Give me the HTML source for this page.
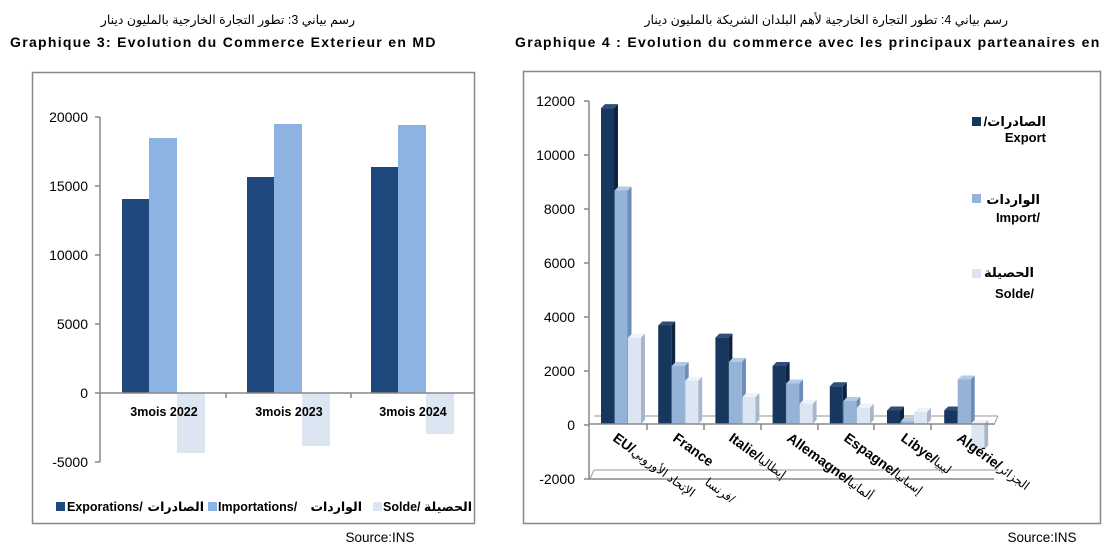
<!DOCTYPE html>
<html><head><meta charset="utf-8"><style>
body{margin:0;background:#fff;width:1109px;height:551px;overflow:hidden}
svg{display:block}
text{font-family:"Liberation Sans","DejaVu Sans",sans-serif}
</style></head><body>
<svg width="1109" height="551" viewBox="0 0 1109 551">
<text x="355" y="24" font-size="12.5" text-anchor="end">رسم بياني 3: تطور التجارة الخارجية بالمليون دينار</text>
<text x="10" y="47" font-size="14" font-weight="bold" letter-spacing="1.3">Graphique 3: Evolution du Commerce Exterieur en MD</text>
<text x="1008" y="24" font-size="12.5" text-anchor="end">رسم بياني 4: تطور التجارة الخارجية لأهم البلدان الشريكة بالمليون دينار</text>
<text x="515" y="47" font-size="14" font-weight="bold" letter-spacing="1.3">Graphique 4 : Evolution du commerce avec les principaux parteanaires en</text>

<rect x="32.5" y="72.5" width="442" height="451" fill="#fff" stroke="#888" stroke-width="1.5"/>
<g font-size="14" text-anchor="end" fill="#000">
<text x="88" y="122">20000</text><text x="88" y="191">15000</text><text x="88" y="260">10000</text><text x="88" y="329">5000</text><text x="88" y="398">0</text><text x="88" y="467">-5000</text>
</g>
<g stroke="#888" stroke-width="1.5">
<line x1="100" y1="117" x2="100" y2="462"/>
<line x1="95" y1="117" x2="100" y2="117"/><line x1="95" y1="186" x2="100" y2="186"/><line x1="95" y1="255" x2="100" y2="255"/><line x1="95" y1="324" x2="100" y2="324"/><line x1="95" y1="393" x2="100" y2="393"/><line x1="95" y1="462" x2="100" y2="462"/>
</g>
<g>
<rect x="122" y="199" width="27" height="194" fill="#1f497d"/>
<rect x="149" y="138" width="28" height="255" fill="#8db3e2"/>
<rect x="177" y="393" width="28" height="60" fill="#dce6f2"/>
<rect x="247" y="177" width="27" height="216" fill="#1f497d"/>
<rect x="274" y="124" width="28" height="269" fill="#8db3e2"/>
<rect x="302" y="393" width="28" height="53" fill="#dce6f2"/>
<rect x="371" y="167" width="27" height="226" fill="#1f497d"/>
<rect x="398" y="125" width="28" height="268" fill="#8db3e2"/>
<rect x="426" y="393" width="28" height="41" fill="#dce6f2"/>
</g>
<g stroke="#888" stroke-width="1.5">
<line x1="100" y1="393" x2="474" y2="393"/>
<line x1="226" y1="393" x2="226" y2="398"/><line x1="351" y1="393" x2="351" y2="398"/>
</g>
<g font-size="12.5" font-weight="bold" text-anchor="middle">
<text x="164" y="416">3mois 2022</text><text x="289" y="416">3mois 2023</text><text x="413" y="416">3mois 2024</text>
</g>
<g font-size="12.5" font-weight="bold">
<rect x="56" y="502" width="9" height="9" fill="#1f497d"/>
<text x="67" y="511">Exporations/</text>
<text x="204" y="511" text-anchor="end">الصادرات</text>
<rect x="208" y="502" width="9" height="9" fill="#8db3e2"/>
<text x="218" y="511">Importations/</text>
<text x="362" y="511" text-anchor="end">الواردات</text>
<rect x="373" y="502" width="9" height="9" fill="#dce6f2"/>
<text x="383" y="511">Solde/</text>
<text x="472" y="511" text-anchor="end">الحصيلة</text>
</g>
<text x="380" y="542" font-size="13.5" text-anchor="middle">Source:INS</text>

<rect x="523.5" y="71.5" width="577" height="452" fill="#fff" stroke="#888" stroke-width="1.5"/>
<g font-size="14" text-anchor="end">
<text x="575" y="106">12000</text><text x="575" y="160">10000</text><text x="575" y="214">8000</text><text x="575" y="268">6000</text><text x="575" y="322">4000</text><text x="575" y="376">2000</text><text x="575" y="430">0</text><text x="575" y="484">-2000</text>
</g>
<g stroke="#aaa" stroke-width="1.2" fill="none">
<line x1="594" y1="416" x2="998" y2="416"/>
<line x1="594" y1="470" x2="998" y2="470"/>
<line x1="590" y1="479" x2="594" y2="470"/>
<line x1="994" y1="425" x2="998" y2="416"/>
</g>
<g stroke="#888" stroke-width="1.5">
<line x1="589" y1="101" x2="589" y2="479"/>
<line x1="584" y1="101" x2="589" y2="101"/><line x1="584" y1="155" x2="589" y2="155"/><line x1="584" y1="209" x2="589" y2="209"/><line x1="584" y1="263" x2="589" y2="263"/><line x1="584" y1="317" x2="589" y2="317"/><line x1="584" y1="371" x2="589" y2="371"/><line x1="584" y1="425" x2="589" y2="425"/><line x1="584" y1="479" x2="589" y2="479"/>
<line x1="589" y1="479" x2="994" y2="479"/>
</g>
<g id="bars"></g>
<g stroke="#888" stroke-width="1.5">
<line x1="589" y1="424" x2="994" y2="424"/>
<line x1="647" y1="424" x2="647" y2="430"/><line x1="704" y1="424" x2="704" y2="430"/><line x1="761" y1="424" x2="761" y2="430"/><line x1="818" y1="424" x2="818" y2="430"/><line x1="874" y1="424" x2="874" y2="430"/><line x1="931" y1="424" x2="931" y2="430"/>
</g>
<g font-size="14" font-weight="bold">
<text transform="translate(612,440) rotate(36)">EU/<tspan font-weight="normal" font-size="12">الإتحاد الأوروبي</tspan></text>
<text transform="translate(672,440) rotate(36)">France</text>
<text transform="translate(704,484) rotate(36)" font-weight="normal" font-size="12">فرنسا/</text>
<text transform="translate(728,440) rotate(36)">Italie/<tspan font-weight="normal" font-size="12">إيطاليا</tspan></text>
<text transform="translate(786,440) rotate(36)">Allemagne/<tspan font-weight="normal" font-size="12">ألمانيا</tspan></text>
<text transform="translate(843,440) rotate(36)">Espagne/<tspan font-weight="normal" font-size="12">إسبانيا</tspan></text>
<text transform="translate(900,440) rotate(36)">Libye/<tspan font-weight="normal" font-size="12">ليبيا</tspan></text>
<text transform="translate(956,440) rotate(36)">Algérie/<tspan font-weight="normal" font-size="12">الجزائر</tspan></text>
</g>
<g font-size="13" font-weight="bold" text-anchor="end">
<rect x="972" y="117" width="9" height="9" fill="#17375e"/>
<text x="1046" y="126">/الصادرات</text>
<text x="1046" y="142">Export</text>
<rect x="972" y="194" width="9" height="9" fill="#95b3d7"/>
<text x="1040" y="204">الواردات</text>
<text x="1040" y="222">Import/</text>
<rect x="972" y="269" width="9" height="9" fill="#dce6f2"/>
<text x="1034" y="277">الحصيلة</text>
<text x="1034" y="298">Solde/</text>
</g>
<text x="1042" y="542" font-size="13.5" text-anchor="middle">Source:INS</text>
</svg>
<script>
(function(){
var g=document.getElementById('bars');var ns='http://www.w3.org/2000/svg';
var data=[[11700,8650,3200],[3650,2150,1600],[3200,2300,1000],[2150,1500,750],[1400,850,600],[500,100,450],[500,1650,-950]];
var front=['#17375e','#95b3d7','#dce6f2'],side=['#0d2340','#6c8db5','#a9b8c9'],top=['#2e4f7a','#b4cbe6','#eef3f9'];
var z=424,k=0.027,dx=4,dy=4;
function p(pts,c){var e=document.createElementNS(ns,'polygon');e.setAttribute('points',pts);e.setAttribute('fill',c);g.appendChild(e);}
data.forEach(function(d,i){var x0=601+i*57.2;d.forEach(function(v,j){var x=x0+j*13.5,w=13;var yt=z-Math.max(v,0)*k,yb=z-Math.min(v,0)*k;
p((x+w)+','+yt+' '+(x+w+dx)+','+(yt-dy)+' '+(x+w+dx)+','+(yb-dy)+' '+(x+w)+','+yb,side[j]);
p(x+','+yt+' '+(x+dx)+','+(yt-dy)+' '+(x+w+dx)+','+(yt-dy)+' '+(x+w)+','+yt,top[j]);
p(x+','+yt+' '+(x+w)+','+yt+' '+(x+w)+','+yb+' '+x+','+yb,front[j]);});});
})();
</script>
</body></html>
